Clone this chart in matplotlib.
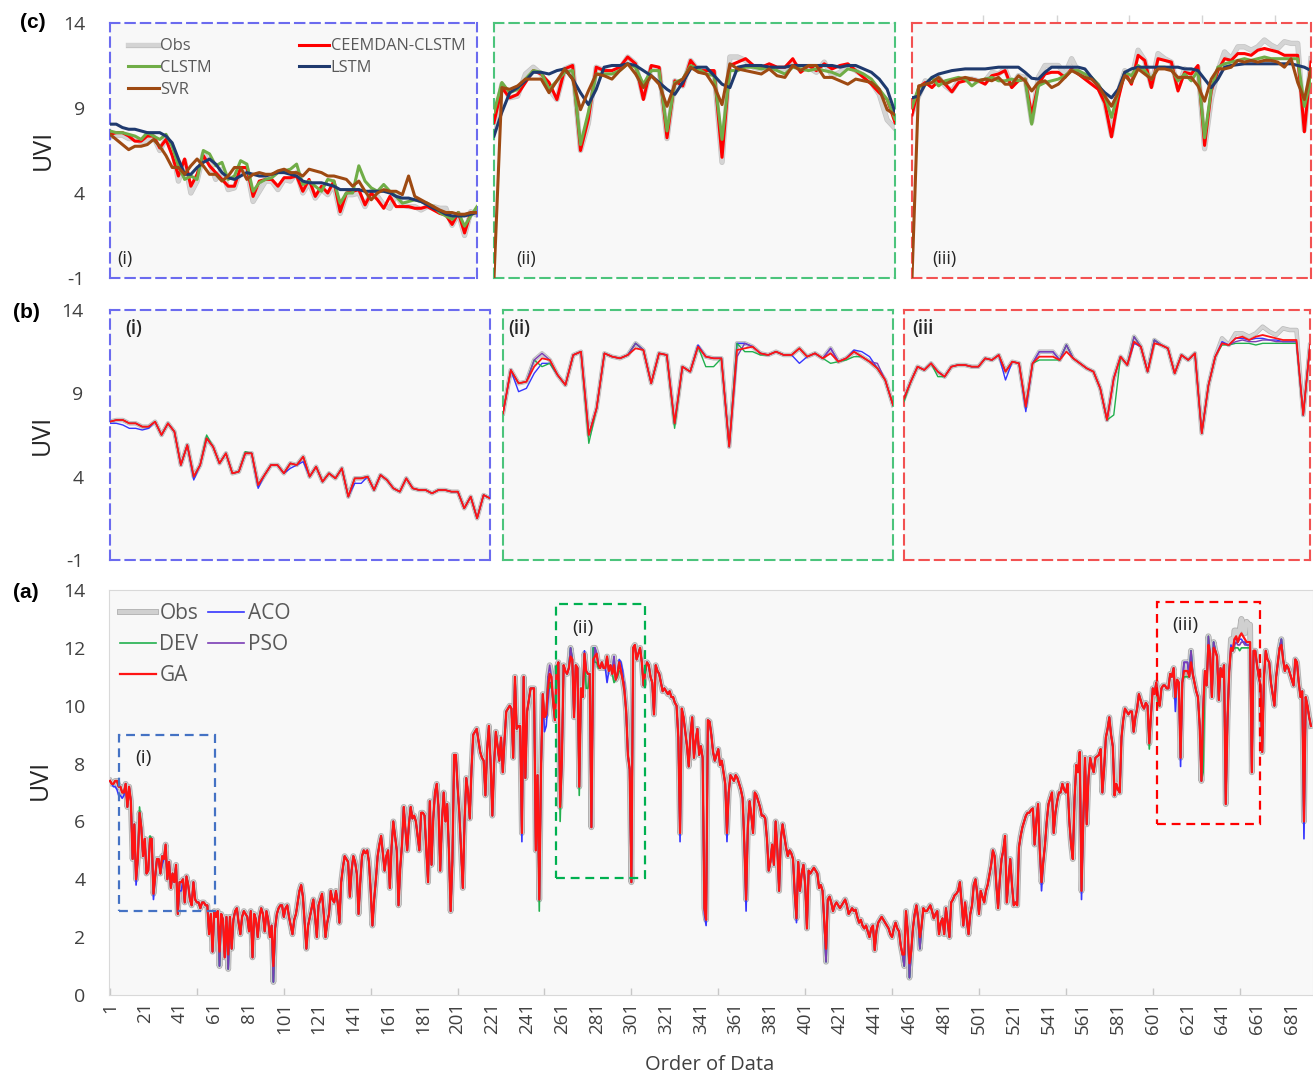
import numpy as np
import matplotlib
matplotlib.use("Agg")
import matplotlib.pyplot as plt
import matplotlib.patheffects as pe
from matplotlib.patches import Rectangle

plt.rcParams['font.family'] = ['Open Sans', 'DejaVu Sans']
plt.rcParams['axes.unicode_minus'] = False

# observed UVI, order of data 1..692 (panel a)
obs = [
    7.4, 7.3,
    7.3, 7.4, 7.4, 7.2, 7.2, 7.0, 7.0, 7.3, 6.5, 7.2,
    6.7, 4.7, 5.9, 4.0, 4.7, 6.3, 5.8, 4.8, 5.4, 4.2,
    4.3, 5.4, 5.4, 3.5, 4.1, 4.7, 4.7, 4.2, 4.8, 4.7,
    5.2, 4.0, 4.6, 3.7, 4.2, 3.9, 4.5, 2.8, 3.9, 3.9,
    4.0, 3.2, 4.1, 3.8, 3.3, 3.1, 3.9, 3.3, 3.2, 3.2,
    3.0, 3.2, 3.2, 3.1, 3.1, 2.1, 2.8, 1.5, 2.9, 2.7,
    2.9, 1.0, 2.8, 2.6, 1.3, 2.7, 0.9, 2.7, 1.6, 2.6,
    2.9, 3.0, 2.5, 2.1, 2.7, 2.9, 2.8, 2.7, 2.2, 2.9,
    1.3, 2.8, 2.6, 2.0, 2.7, 3.0, 2.8, 2.2, 2.9, 2.6,
    2.0, 2.4, 0.45, 2.3, 2.8, 3.0, 3.1, 3.1, 2.7, 3.0,
    3.1, 2.7, 2.4, 2.1, 2.6, 2.8, 3.2, 3.6, 3.8,
    3.4, 2.5, 1.6, 2.4, 2.7, 3.0, 3.3, 2.7, 2.0, 3.1,
    3.3, 3.5, 2.8, 2.0, 2.5, 2.8, 3.6, 3.3, 3.2,
    3.6, 3.2, 2.5, 3.9, 4.4, 4.8, 4.7, 4.6, 3.4, 4.3,
    4.8, 4.6, 4.2, 2.8, 3.9, 4.8, 5.0, 4.9, 5.0, 4.6,
    3.6, 2.4, 3.3, 4.0, 4.8, 5.2, 5.5, 4.9, 4.3, 4.8,
    5.0, 3.7, 5.1, 6.0, 5.5, 5.0, 3.1, 4.4, 5.2, 6.5,
    5.7, 5.0, 5.9, 6.5, 6.1, 6.2, 6.0, 5.5, 5.0, 6.3,
    6.3, 6.2, 5.0, 3.9, 6.7, 4.5, 6.1, 7.0, 7.3, 6.5,
    4.3, 6.0, 7.0, 6.0, 6.6, 5.0, 2.9, 4.6, 8.3, 8.3,
    7.2, 6.3, 5.0, 3.7, 6.0, 7.5, 7.0, 6.1, 7.8, 9.0,
    9.1, 9.2, 8.8, 8.4, 8.2, 8.1, 6.9, 8.5, 9.3, 8.0,
    6.2, 8.0, 9.1, 8.6, 8.1, 8.9, 7.7, 8.8, 9.8, 9.9,
    10.0, 9.9, 8.2, 11.0, 9.2, 9.3, 9.3, 5.6, 11.0, 7.5,
    9.8, 10.2, 10.6, 10.6, 10.6, 5.0, 7.6, 3.3,
    7.8, 10.4, 9.6, 9.7, 11.0, 11.4, 11.0, 10.1, 9.5, 11.3,
    11.5, 6.5, 8.1, 11.4, 11.2, 11.1, 11.3, 12.0, 11.6, 9.6,
    11.4, 11.3, 7.2, 10.6, 10.3, 11.8, 11.2, 11.1, 11.1, 5.8,
    12.0, 12.0, 11.8, 11.4, 11.3, 11.5, 11.3, 11.3, 11.7, 11.2,
    11.4, 11.1, 11.7, 10.9, 11.1, 11.5, 11.2, 10.9, 10.5, 9.8,
    8.3,
    7.8, 3.9,
    12.0, 12.1, 11.6, 11.8, 12.0, 11.5, 10.7, 11.2, 11.5, 11.4,
    11.0, 10.8, 9.7, 11.4, 11.2, 11.1, 10.8, 10.5, 10.6, 10.5,
    10.4, 10.5, 10.3, 10.3, 10.1, 10.0, 8.9, 5.6, 9.9, 9.6,
    9.1, 8.6, 7.9, 9.0, 9.6, 8.2, 8.8, 9.2, 8.3, 8.6,
    8.2, 3.0, 2.6, 9.5,
    9.45, 9.0, 8.4, 8.1, 8.3, 8.5, 7.95, 8.1, 7.7, 7.3,
    5.6, 7.0, 7.6, 7.5, 7.4, 7.6, 7.5, 7.3, 7.1, 6.8,
    5.2, 3.3, 5.8, 6.7, 6.2, 5.6, 7.0, 6.9, 6.7, 6.5,
    6.2, 6.2, 6.1, 5.4, 4.3, 4.6, 5.2, 4.5, 6.0, 5.0,
    3.6, 5.4, 5.9, 5.5, 5.1, 4.8, 5.0, 4.9, 4.7, 3.5,
    2.65, 4.6, 3.6, 4.2, 4.5, 3.8, 2.3, 4.3, 4.2, 4.3,
    4.4, 4.3, 4.2, 3.7, 3.8, 3.6, 2.5, 1.15, 3.3, 3.4,
    3.2, 2.9, 3.1, 3.2, 3.1, 3.0, 3.1, 3.2, 3.3, 3.1,
    2.8, 2.9, 3.0, 2.9, 2.95, 2.7, 2.5, 2.6, 2.4, 2.3,
    2.4, 2.2, 2.0, 2.3, 2.4, 1.55, 2.2, 2.5, 2.6, 2.7,
    2.6, 2.5, 2.4, 2.3, 2.1, 2.0, 2.3, 2.5, 2.3, 2.2,
    1.7, 1.4, 1.0, 2.9, 2.2, 0.6, 1.5, 2.3, 2.8, 3.1,
    2.65, 1.6, 2.4, 3.0, 2.9, 2.9, 3.0, 3.1, 2.9, 2.65,
    2.8, 2.9, 2.1, 2.5, 2.65, 2.1, 3.0, 2.5, 2.0, 3.2,
    3.3, 3.45, 3.5, 3.6, 3.9, 3.2, 2.4, 3.2, 2.6, 2.1,
    2.8, 3.1, 3.8, 4.0, 3.5, 2.8, 3.6, 3.4, 3.2, 3.6,
    3.8, 4.15, 4.5, 5.0, 4.8, 3.8, 3.0, 4.0, 4.7, 5.0,
    5.5, 3.2, 4.0, 4.7, 3.8, 3.1, 3.2, 3.1, 5.1, 5.5,
    5.8, 6.0, 6.2, 6.3, 6.3, 6.4, 6.45, 5.2, 6.0, 6.6,
    5.0, 3.9, 4.6, 5.2, 6.0, 6.6, 6.8, 7.0, 5.6, 6.3,
    6.7, 7.0, 7.0, 7.3, 7.1, 7.0, 7.3, 6.0, 5.2, 4.7,
    6.8, 7.95, 7.7, 8.4, 3.6, 6.0, 8.2, 5.9, 7.5, 8.2,
    7.9, 7.7, 8.2, 8.25, 8.3, 8.5, 7.0, 7.8, 8.9, 9.2,
    9.6, 9.0, 8.6, 6.9, 7.3, 7.1, 7.0, 8.9, 9.5, 9.9,
    9.8, 9.7, 9.8, 9.8, 9.1, 9.6, 9.9, 10.4, 10.2, 10.0,
    9.9, 10.1, 10.0,
    8.7, 9.7, 10.6, 10.4, 10.8, 10.3, 10.0, 10.6, 10.7, 10.7,
    10.6, 10.6, 11.1, 11.0, 11.3, 10.3, 10.9, 10.8, 8.2, 10.8,
    11.5, 11.5, 11.5, 11.0, 11.9, 11.1, 10.8, 10.5, 10.3, 9.3,
    7.4, 9.9, 11.2, 10.7, 12.4, 11.8, 10.3, 12.2, 11.9, 11.7,
    10.2, 11.3, 11.0, 11.4, 6.6, 9.5, 11.2, 12.3, 11.9, 12.6,
    12.6, 12.4, 12.6, 13.0, 12.7, 12.5, 12.9, 12.8, 12.8, 7.7,
    11.9,
    11.9, 11.4, 11.0, 10.7, 8.4, 11.0, 11.9, 11.6, 11.5, 10.8,
    10.4, 10.0, 11.0, 11.5, 12.0, 12.3, 11.6, 11.2, 11.4, 11.3,
    11.1, 10.9, 10.7, 11.6, 11.5, 10.8, 10.3, 10.5, 6.0, 10.3,
    10.0, 9.6, 9.3,
]
assert len(obs) == 692, len(obs)

# points where the optimised models (panels a, b) depart from Obs: {order: UVI}
ga_adj = {64: 1.5, 69: 1.4, 95: 1.0, 253: 10.6, 254: 11.1, 266: 11.7, 279: 11.6,
          280: 11.7, 291: 11.4, 413: 1.6, 458: 1.4, 461: 1.1, 467: 2.0,
          619: 11.2, 620: 11.2, 621: 11.2, 623: 11.5, 633: 12.1, 636: 12.0,
          646: 12.0, 648: 12.3, 649: 12.4, 650: 12.2, 651: 12.4, 652: 12.5,
          653: 12.4, 654: 12.3, 655: 12.2, 656: 12.2, 657: 12.2, 675: 12.1}
aco_adj = {3: 7.2, 4: 7.2, 5: 7.1, 6: 6.9, 7: 6.9, 8: 6.8, 9: 6.9, 16: 3.8,
           26: 3.3, 31: 4.5, 33: 4.9, 41: 3.6, 42: 3.6, 238: 5.3, 251: 9.1,
           252: 9.3, 253: 10.2, 254: 10.8, 255: 10.8, 274: 11.9, 287: 10.8,
           294: 11.6, 295: 11.5, 296: 11.2, 329: 5.3, 343: 2.8, 344: 2.4,
           356: 5.3, 367: 2.9, 396: 2.5, 537: 3.6, 560: 3.3, 614: 9.8, 617: 7.9,
           633: 12.0, 646: 12.1, 648: 12.3, 649: 12.3, 650: 12.2, 651: 12.3,
           652: 12.3, 653: 12.2, 654: 12.2, 655: 12.1, 656: 12.1, 657: 12.1,
           688: 5.4}
dev_adj = {18: 6.5, 24: 5.5, 248: 2.9, 254: 10.6, 255: 10.8, 260: 6.0, 271: 6.9,
           275: 10.6, 276: 10.6, 280: 11.5, 281: 11.5, 282: 11.3, 291: 10.8,
           292: 10.9, 293: 11.0, 294: 11.2, 599: 8.5, 604: 10.0, 619: 11.0,
           620: 11.0, 621: 11.0, 630: 7.7, 646: 11.9, 647: 11.9, 648: 12.0,
           649: 12.0, 650: 12.0, 651: 11.9, 652: 12.0, 653: 12.0, 654: 12.0,
           655: 12.0, 656: 12.0, 657: 12.0}
pso_adj = {279: 11.2, 297: 10.8, 646: 12.0, 648: 12.1, 649: 12.2, 650: 12.1,
           651: 12.1, 652: 12.2, 653: 12.2, 654: 12.1, 655: 12.1, 656: 12.1,
           657: 12.1}

# zoomed segments (first, last order) for panels (b) and (c)
seg_b = [(3, 62), (249, 299), (599, 659)]
seg_c = [(3, 62), (249, 300), (599, 659)]

# panel (c) model predictions per segment
ceemdan_i = [7.45, 7.55, 7.55, 7.35, 7.05, 7.05, 7.35, 7.35, 6.65, 7.15,
             6.2, 5.0, 6.0, 4.4, 5.1, 6.2, 5.6, 5.2, 4.8, 4.4,
             4.4, 5.5, 5.5, 3.8, 4.7, 4.8, 4.8, 4.4, 4.9, 4.9,
             5.0, 4.1, 4.8, 3.8, 4.4, 4.0, 4.7, 2.9, 4.0, 4.1,
             4.2, 3.3, 4.0, 3.6, 3.1, 3.8, 3.2, 3.2, 3.2, 3.1,
             3.1, 3.2, 3.0, 2.8, 2.7, 2.15, 2.85, 1.65, 2.85, 2.85]
clstm_i = [7.65, 7.55, 7.55, 7.45, 7.35, 7.15, 7.55, 7.35, 7.15, 7.45,
           6.75, 5.6, 4.8, 5.0, 4.8, 6.5, 6.3, 5.6, 5.8, 4.8,
           5.0, 5.9, 5.7, 4.1, 4.6, 4.8, 4.9, 5.2, 5.3, 5.4,
           5.7, 4.5, 4.7, 4.4, 4.1, 4.8, 4.7, 3.4, 4.0, 4.0,
           5.6, 4.7, 4.3, 4.1, 4.5, 4.1, 3.8, 3.4, 3.5, 3.6,
           3.5, 3.4, 3.2, 2.85, 2.65, 2.45, 2.85, 2.05, 2.65, 3.2]
lstm_i = [8.05, 8.05, 7.85, 7.75, 7.75, 7.65, 7.55, 7.55, 7.55, 7.35,
          6.95, 6.0, 5.1, 5.1, 5.5, 5.8, 6.0, 5.7, 5.2, 4.9,
          4.8, 5.0, 5.2, 5.1, 5.0, 5.0, 5.1, 5.2, 5.2, 5.1,
          5.0, 4.7, 4.6, 4.6, 4.6, 4.5, 4.4, 4.2, 4.2, 4.2,
          4.2, 4.1, 4.1, 4.1, 4.1, 4.0, 3.8, 3.7, 3.7, 3.6,
          3.5, 3.3, 3.1, 2.95, 2.75, 2.65, 2.65, 2.65, 2.75, 2.85]
svr_i = [7.45, 7.15, 6.85, 6.55, 6.75, 6.75, 6.85, 7.15, 6.75, 6.2,
         5.5, 5.5, 5.1, 5.6, 6.0, 5.6, 5.1, 5.1, 4.7, 5.0,
         5.5, 5.5, 4.8, 5.1, 5.2, 5.1, 5.1, 5.3, 5.4, 5.2,
         5.2, 5.0, 5.4, 5.3, 5.2, 5.0, 5.0, 4.9, 4.8, 4.4,
         4.7, 4.1, 3.6, 4.0, 4.2, 4.1, 4.1, 3.9, 5.0, 3.8,
         3.6, 3.4, 3.2, 3.0, 2.85, 2.85, 2.75, 2.75, 2.85, 2.85]

ceemdan_ii = [8.15, 10.2, 9.6, 9.8, 10.5, 11.2, 11.0, 10.5, 9.5, 11.3,
              11.5, 6.5, 8.35, 11.4, 11.2, 11.2, 11.4, 12.0, 11.6, 9.5,
              11.5, 11.4, 7.25, 10.6, 10.3, 11.8, 11.2, 11.2, 11.2, 6.1,
              11.5, 11.7, 11.9, 11.5, 11.4, 11.6, 11.4, 11.4, 11.9, 11.1,
              11.5, 11.2, 11.6, 11.3, 11.5, 11.6, 11.2, 10.8, 10.4, 9.9,
              9.5, 8.15]
clstm_ii = [8.75, 10.5, 9.9, 10.1, 10.7, 11.2, 11.1, 10.1, 10.6, 11.1,
            11.2, 6.85, 8.75, 11.0, 11.0, 11.0, 11.2, 11.6, 11.4, 10.4,
            11.2, 11.2, 7.65, 10.5, 10.7, 11.5, 11.3, 11.0, 10.9, 7.15,
            11.2, 11.2, 11.4, 11.4, 11.3, 11.4, 11.2, 11.0, 11.4, 11.3,
            11.2, 11.3, 11.2, 11.1, 10.9, 11.3, 11.2, 11.0, 10.7, 10.1,
            9.5, 8.35]
lstm_ii = [7.35, 8.75, 9.9, 10.2, 10.6, 11.1, 11.1, 11.0, 11.2, 11.3,
           10.7, 9.9, 9.2, 10.1, 11.4, 11.5, 11.5, 11.6, 11.5, 11.2,
           10.9, 10.5, 10.1, 9.8, 10.5, 11.3, 11.4, 11.4, 10.9, 10.4,
           10.2, 11.4, 11.5, 11.5, 11.5, 11.4, 11.4, 11.4, 11.5, 11.5,
           11.5, 11.5, 11.5, 11.5, 11.4, 11.5, 11.5, 11.3, 11.1, 10.7,
           10.1, 8.75]
svr_ii = [-1.0, 10.2, 10.1, 10.3, 10.7, 10.7, 10.7, 9.9, 10.6, 11.3,
          10.7, 8.9, 10.0, 11.0, 10.9, 10.7, 11.2, 11.6, 11.0, 10.2,
          10.9, 10.4, 9.1, 10.4, 10.7, 11.4, 11.1, 11.0, 10.3, 9.2,
          11.6, 11.3, 11.2, 11.1, 11.0, 11.3, 10.9, 10.8, 11.5, 11.2,
          11.5, 11.5, 10.8, 10.8, 10.6, 10.4, 10.7, 10.6, 10.5, 10.1,
          8.9, 8.6]

ceemdan_iii = [8.6, 10.2, 10.5, 10.2, 10.6, 10.4, 9.95, 10.5, 10.6, 10.7,
               10.6, 10.4, 10.9, 11.0, 11.2, 10.2, 10.6, 10.7, 8.6, 10.4,
               11.0, 11.1, 11.1, 10.8, 11.3, 11.0, 10.7, 10.4, 10.1, 9.3,
               7.3, 9.5, 11.1, 10.4, 12.1, 11.8, 10.2, 11.9, 11.8, 11.7,
               10.0, 11.1, 11.0, 11.5, 6.8, 10.0, 11.2, 11.9, 11.8, 12.2,
               12.2, 12.1, 12.4, 12.5, 12.4, 12.3, 12.1, 12.1, 12.1, 7.6,
               11.7]
clstm_iii = [9.05, 10.2, 10.4, 10.8, 10.3, 10.6, 10.7, 10.8, 10.7, 10.3,
             10.6, 10.7, 10.8, 10.6, 10.6, 10.7, 10.6, 10.7, 8.05, 10.3,
             10.5, 10.6, 10.7, 10.9, 11.2, 11.2, 11.0, 10.8, 10.4, 9.7,
             8.45, 9.9, 11.1, 10.9, 11.5, 11.2, 10.7, 11.4, 11.4, 11.3,
             10.6, 11.0, 10.6, 11.2, 7.25, 10.1, 11.4, 11.6, 11.7, 11.8,
             11.9, 11.8, 11.9, 12.0, 11.9, 11.9, 11.9, 11.9, 11.9, 9.1,
             10.7]
lstm_iii = [9.6, 9.7, 10.4, 10.8, 11.0, 11.1, 11.2, 11.25, 11.3, 11.3,
            11.3, 11.3, 11.35, 11.4, 11.4, 11.4, 11.4, 11.1, 10.75, 10.7,
            11.1, 11.4, 11.4, 11.4, 11.4, 11.4, 11.3, 10.8, 10.3, 9.9,
            9.6, 10.1, 11.1, 11.3, 11.4, 11.4, 11.4, 11.4, 11.4, 11.4,
            11.4, 11.3, 11.3, 11.2, 10.7, 10.2, 10.7, 11.4, 11.5, 11.55,
            11.6, 11.6, 11.6, 11.6, 11.6, 11.6, 11.6, 11.6, 11.5, 11.4,
            11.2]
svr_iii = [-1.0, 10.3, 10.4, 10.5, 10.8, 10.4, 10.6, 10.7, 10.8, 10.7,
           10.6, 10.7, 10.6, 10.8, 10.4, 10.4, 10.9, 10.6, 10.0, 10.5,
           10.6, 10.2, 10.4, 10.8, 11.2, 11.0, 10.8, 10.7, 10.3, 9.7,
           9.1, 9.9, 10.9, 10.5, 11.3, 11.0, 10.7, 11.3, 11.3, 11.2,
           10.8, 10.8, 10.8, 10.3, 9.4, 10.7, 11.3, 11.3, 11.4, 11.8,
           11.7, 11.8, 11.7, 11.8, 11.8, 11.7, 11.4, 11.9, 10.5, 9.5,
           11.3]

seg_names = ['(i)', '(ii)', '(iii)']


def with_adj(base, adj):
    s = np.array(base, dtype=float)
    for k, v in adj.items():
        s[k - 1] = v
    return s


order = np.arange(1, len(obs) + 1)
obs_a = np.array(obs, dtype=float)
ga = with_adj(obs, ga_adj)
aco = with_adj(obs, aco_adj)
dev = with_adj(obs, dev_adj)
pso = with_adj(obs, pso_adj)

W, H = 1313, 1079
fig = plt.figure(figsize=(W / 100, H / 100), dpi=100)


def px_axes(x0, y0, x1, y1):
    return fig.add_axes([x0 / W, 1 - y1 / H, (x1 - x0) / W, (y1 - y0) / H])


TXT = '#404040'
c_box = ['#6b6bef', '#4cc47c', '#f25252']
a_box = ['#4472c4', '#00b050', '#ff0000']
dash = (0, (4.5, 2.9))

# ---------------- panel (a) ----------------
ax = px_axes(109, 590, 1313, 995)
ax.set_facecolor('#f8f8f8')
h_obs, = ax.plot(order, obs_a, color='#d0d0d0', lw=3.0, label='Obs', zorder=2,
                 path_effects=[pe.Stroke(linewidth=4.2, foreground='#b0b0b0'), pe.Normal()])
h_aco, = ax.plot(order, aco, color='#3535ff', lw=1.2, label='ACO', zorder=3)
h_dev, = ax.plot(order, dev, color='#22b04e', lw=1.2, label='DEV', zorder=3)
h_pso, = ax.plot(order, pso, color='#7b3db5', lw=1.2, label='PSO', zorder=3)
h_ga, = ax.plot(order, ga, color='#ff1414', lw=1.6, label='GA', zorder=4)
ax.set_xlim(0.42, 693.2)
ax.set_ylim(0, 14)
ax.set_yticks(range(0, 15, 2))
ax.set_xticks(range(1, 692, 20))
ax.set_xticks(range(1, 692, 50), minor=True)
ax.xaxis.remove_overlapping_locs = False
ax.tick_params(axis='x', which='major', length=0, labelrotation=90,
               labelsize=13.5, labelcolor=TXT, pad=5)
ax.tick_params(axis='x', which='minor', direction='in', length=5, width=1,
               color='#c8c8c8')
ax.tick_params(axis='y', length=0, labelsize=14, labelcolor=TXT, pad=17)
for s in ax.spines.values():
    s.set_color('#d9d9d9')
ax.legend([h_obs, h_dev, h_ga, h_aco, h_pso], ['Obs', 'DEV', 'GA', 'ACO', 'PSO'],
          ncol=2, loc='upper left', bbox_to_anchor=(0.009, 0.968),
          frameon=False, fontsize=15, labelcolor='#595959', handlelength=1.75,
          handletextpad=0.15, columnspacing=0.45, labelspacing=0.48,
          borderpad=0, borderaxespad=0)

# dashed boxes marking the zoomed segments
zoom_rects = [(6.2, 2.9, 55.2, 6.1), (257.6, 4.05, 51.2, 9.45), (603.4, 5.9, 59.3, 7.7)]
zoom_text = [(20, 8.2), (273, 12.7), (619.5, 12.8)]
for (x0, y0, w, h), (tx, ty), col, name in zip(zoom_rects, zoom_text, a_box, seg_names):
    ax.add_patch(Rectangle((x0, y0), w, h, fill=False, ec=col, lw=1.6,
                           ls=(0, (4, 2.6)), zorder=5))
    ax.text(tx, ty, name, fontsize=14, color='#262626', ha='center', va='center')

fig.text(710 / W, 1 - 1065 / H, 'Order of Data', fontsize=14.5, color=TXT,
         ha='center', va='center')

# ---------------- panel (b) ----------------
b_px = [(110, 490), (503, 893), (904, 1310)]
b_names = ['(i)', '(ii)', '(iii']
b_lab_x = [0.039, 0.013, 0.02]
b_obs_fx = [pe.Stroke(linewidth=3.2, foreground='#b8b8b8'), pe.Normal()]
for j, ((x0, x1), (s0, s1)) in enumerate(zip(b_px, seg_b)):
    bx = px_axes(x0, 310, x1, 560)
    bx.set_facecolor('#f8f8f8')
    sl = slice(s0 - 1, s1)
    xs = order[sl]
    bx.plot(xs, obs_a[sl], color='#d4d4d4', lw=2.2, path_effects=b_obs_fx, zorder=2)
    bx.plot(xs, aco[sl], color='#3535ff', lw=1.0, zorder=3)
    bx.plot(xs, dev[sl], color='#22b04e', lw=1.0, zorder=3)
    bx.plot(xs, pso[sl], color='#7b3db5', lw=1.0, zorder=3)
    bx.plot(xs, ga[sl], color='#ff1414', lw=1.3, zorder=4)
    bx.set_xlim(s0, s1)
    bx.set_ylim(-1, 14)
    bx.set_xticks([])
    if j == 0:
        bx.set_yticks([14, 9, 4, -1])
        bx.tick_params(axis='y', length=0, labelsize=14, labelcolor=TXT, pad=19)
    else:
        bx.set_yticks([])
    for s in bx.spines.values():
        s.set_color(c_box[j])
        s.set_linewidth(1.5)
        s.set_linestyle(dash)
    bx.text(b_lab_x[j], 0.924, b_names[j], transform=bx.transAxes, fontsize=13.5,
            fontweight='semibold', color='#262626', ha='left', va='center')

# ---------------- panel (c) ----------------
c_px = [(110, 477), (494, 895), (912, 1311)]
c_models = [
    (ceemdan_i, clstm_i, lstm_i, svr_i),
    (ceemdan_ii, clstm_ii, lstm_ii, svr_ii),
    (ceemdan_iii, clstm_iii, lstm_iii, svr_iii),
]
c_lab_x = [0.019, 0.055, 0.05]
for j, ((x0, x1), (s0, s1), (ce, cl, ls_, sv)) in enumerate(zip(c_px, seg_c, c_models)):
    cx = px_axes(x0, 23, x1, 278)
    cx.set_facecolor('#f8f8f8')
    sl = slice(s0 - 1, s1)
    xs = order[sl]
    h1, = cx.plot(xs, obs_a[sl], color='#d4d4d4', lw=2.8, path_effects=[
        pe.Stroke(linewidth=3.8, foreground='#c4c4c4'), pe.Normal()], zorder=2)
    h2, = cx.plot(xs, ce, color='#ff0000', lw=2.2, zorder=3)
    h3, = cx.plot(xs, cl, color='#70ad47', lw=2.2, zorder=4)
    h4, = cx.plot(xs, ls_, color='#1f3a6e', lw=2.2, zorder=5)
    h5, = cx.plot(xs, sv, color='#9e4a12', lw=2.2, zorder=6)
    cx.set_xlim(s0, s1)
    cx.set_ylim(-1, 14)
    if j == 0:
        cx.set_yticks([14, 9, 4, -1])
        cx.tick_params(axis='y', length=0, labelsize=14, labelcolor=TXT, pad=18)
        cx.set_xticks([])
        cx.legend([h1, h3, h5, h2, h4], ['Obs', 'CLSTM', 'SVR', 'CEEMDAN-CLSTM', 'LSTM'],
                  ncol=2, loc='upper left', bbox_to_anchor=(0.05, 0.94),
                  frameon=False, fontsize=11.8, labelcolor='#595959',
                  handlelength=1.85, handletextpad=0.1, columnspacing=5.3,
                  labelspacing=0.36, borderpad=0, borderaxespad=0)
    else:
        cx.set_yticks([])
        cx.set_xticks([])
    if j == 2:
        cx.set_xticks([609.7, 620.8, 631.6, 642.6, 653.6])
        cx.tick_params(axis='x', top=True, bottom=False, labeltop=False,
                       labelbottom=False, direction='out', length=6,
                       color='#d4d4d4', width=1)
    for s in cx.spines.values():
        s.set_color(c_box[j])
        s.set_linewidth(1.5)
        s.set_linestyle(dash)
    cx.text(c_lab_x[j], 0.075, seg_names[j], transform=cx.transAxes, fontsize=13,
            color='#262626', ha='left', va='center')

# axis titles and panel letters
for xc, yc in ((43, 150), (42, 435), (40, 780)):
    fig.text(xc / W, 1 - yc / H, 'UVI', rotation=90, fontsize=18, color='#262626',
             ha='center', va='center')
for lab, (xc, yc) in zip(['(c)', '(b)', '(a)'], [(33, 22), (26, 313), (26, 592)]):
    fig.text(xc / W, 1 - yc / H, lab, fontsize=15, fontweight='bold',
             family=['Liberation Sans', 'DejaVu Sans'], ha='center', va='center')

fig.savefig('out.png', dpi=100)
